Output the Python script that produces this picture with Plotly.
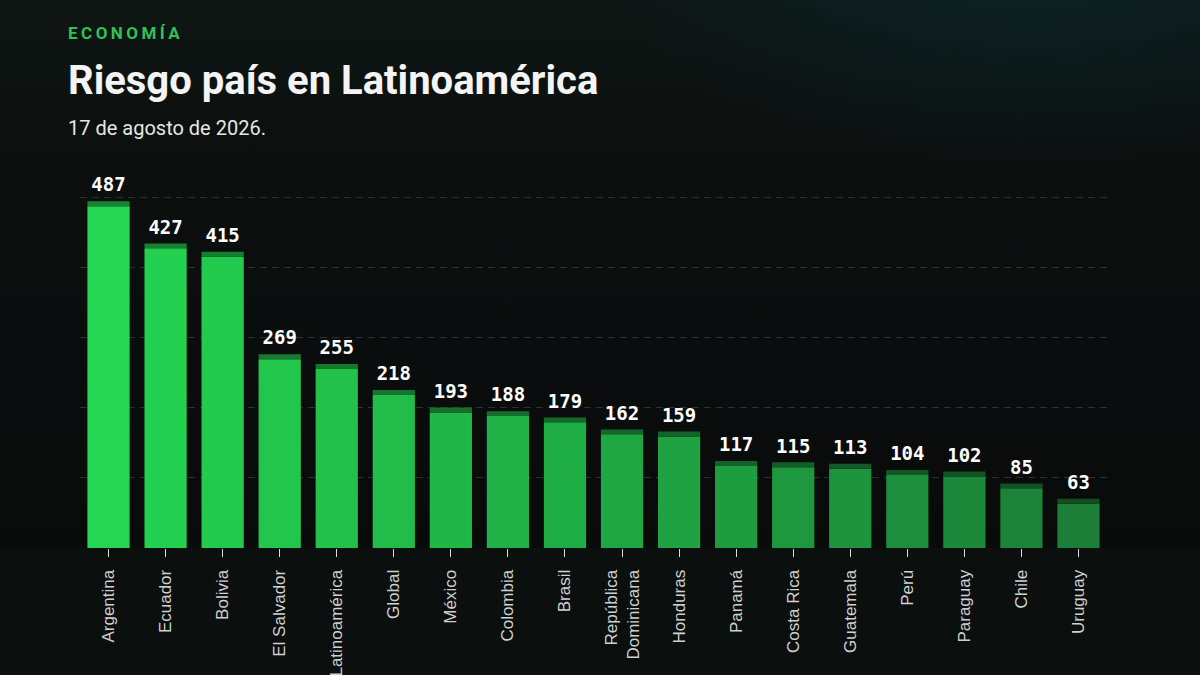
import base64
import plotly.graph_objects as go

# Datos: riesgo pais (puntos basicos) al 17 de agosto de 2026
paises = ["Argentina", "Ecuador", "Bolivia", "El Salvador", "Latinoamérica", "Global",
          "México", "Colombia", "Brasil", "República<br>Dominicana", "Honduras", "Panamá",
          "Costa Rica", "Guatemala", "Perú", "Paraguay", "Chile", "Uruguay"]
valores = [487, 427, 415, 269, 255, 218, 193, 188, 179, 162, 159, 117, 115, 113, 104, 102, 85, 63]

color_ini = (36, 214, 81)
color_fin = (27, 127, 56)


def mezcla(c1, c2, t, oscuro=1.0):
    r, g, b = [int((a + (b_ - a) * t) * oscuro) for a, b_ in zip(c1, c2)]
    return "rgb(%d,%d,%d)" % (r, g, b)


n = len(paises)
colores = [mezcla(color_ini, color_fin, i / (n - 1)) for i in range(n)]
colores_tapa = [mezcla(color_ini, color_fin, i / (n - 1), 0.62) for i in range(n)]

#Fondo oscuro con un leve brillo verde azulado arriba a la derecha
fondo_svg = """<svg xmlns='http://www.w3.org/2000/svg' width='1200' height='675'>
<defs>
<linearGradient id='v' x1='0' y1='0' x2='0' y2='1'>
<stop offset='0' stop-color='#111b18'/><stop offset='0.45' stop-color='#0b0f0e'/>
<stop offset='1' stop-color='#090b0b'/></linearGradient>
<radialGradient id='r' cx='0.86' cy='0.06' r='0.38'>
<stop offset='0' stop-color='#0b2428' stop-opacity='0.95'/>
<stop offset='1' stop-color='#0b2428' stop-opacity='0'/></radialGradient>
</defs>
<rect width='1200' height='675' fill='url(#v)'/>
<rect width='1200' height='675' fill='url(#r)'/>
</svg>"""
fondo_uri = "data:image/svg+xml;base64," + base64.b64encode(fondo_svg.encode()).decode()

fig = go.Figure()

#Barras principales
fig.add_trace(go.Bar(x=paises, y=valores, marker=dict(color=colores, line=dict(width=0)),
                     hoverinfo="skip"))

#Tapa oscura encima de cada barra
fig.add_trace(go.Bar(x=paises, y=[7] * n, base=valores,
                     marker=dict(color=colores_tapa, line=dict(width=0)), hoverinfo="skip"))

#Barra invisible solo para colocar la etiqueta del valor
fig.add_trace(go.Bar(x=paises, y=[11] * n, base=valores,
                     marker=dict(color="rgba(0,0,0,0)", line=dict(width=0)),
                     text=[str(v) for v in valores], textposition="outside",
                     textfont=dict(family="DejaVu Sans Mono", size=19, color="#ffffff", weight="bold"),
                     cliponaxis=False, hoverinfo="skip"))

#Formato
fig.update_layout(
    width=1200, height=675,
    barmode="overlay", bargap=0.26, showlegend=False,
    paper_bgcolor="#0b0f0e", plot_bgcolor="rgba(0,0,0,0)",
    margin=dict(l=80, r=93, t=176, b=127),
    font=dict(family="Roboto", color="#ffffff"),
    xaxis=dict(tickangle=-90, ticks="outside", ticklen=8, tickcolor="#d8d8d8", tickwidth=1,
               ticklabelstandoff=6,
               tickfont=dict(family="Liberation Sans", size=17, color="#d0d0d0"),
               showgrid=False, showline=False, zeroline=False, automargin=False),
    yaxis=dict(range=[0, 530], tickmode="linear", tick0=0, dtick=100, showticklabels=False,
               showgrid=True, gridcolor="#2c3231", griddash="7px,5px", gridwidth=1,
               zeroline=False, showline=False, automargin=False),
    images=[dict(source=fondo_uri, xref="paper", yref="paper",
                 x=-80 / 1027, y=(548 + 127) / 372, sizex=1200 / 1027, sizey=675 / 372,
                 xanchor="left", yanchor="top", sizing="stretch", layer="below")],
)

px0 = -14 / 1027
fig.add_annotation(text="E C O N O M Í A".replace(" ", "\u2009"), xref="paper", yref="paper",
                   x=px0, y=(548 - 33) / 372, xanchor="left", yanchor="middle", showarrow=False,
                   font=dict(family="Roboto", size=17, color="#2fc25a", weight="bold"))
fig.add_annotation(text="<b>Riesgo país en Latinoamérica</b>", xref="paper", yref="paper",
                   x=px0, y=(548 - 80) / 372, xanchor="left", yanchor="middle", showarrow=False,
                   font=dict(family="Roboto", size=40, color="#f4f4f4"))
fig.add_annotation(text="17 de agosto de 2026.", xref="paper", yref="paper",
                   x=px0, y=(548 - 128) / 372, xanchor="left", yanchor="middle", showarrow=False,
                   font=dict(family="Roboto", size=20, color="#e6e6e6"))

fig.write_html("out.html", config={"displayModeBar": False},
               post_script="document.body.style.margin='0';document.body.style.overflow='hidden';")
